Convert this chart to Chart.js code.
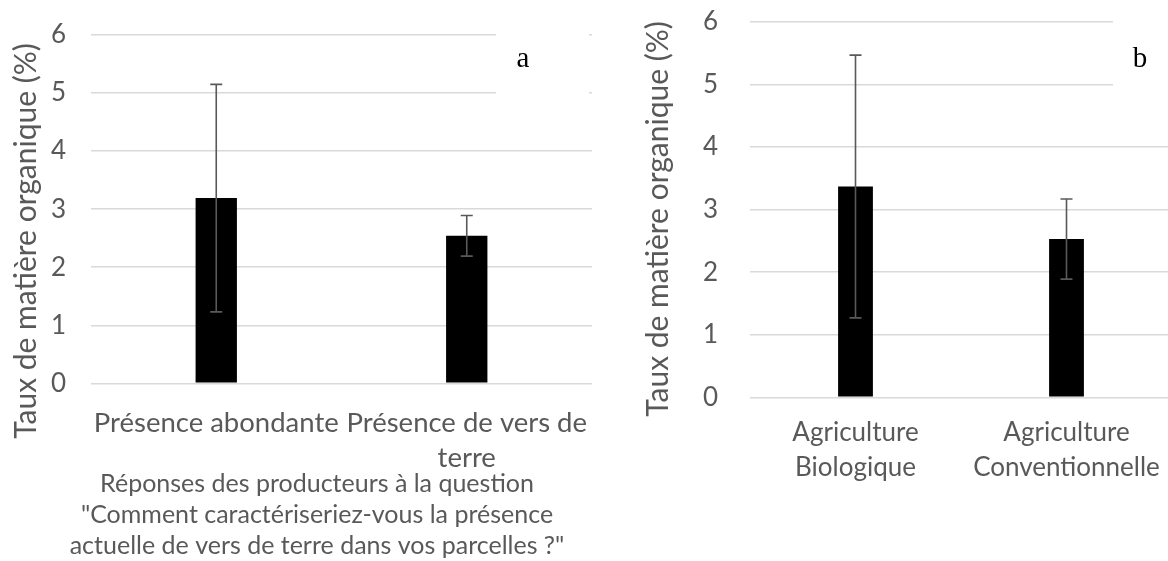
<!DOCTYPE html>
<html lang="fr">
<head>
<meta charset="utf-8">
<script src="https://cdn.jsdelivr.net/npm/chart.js@4.4.1/dist/chart.umd.min.js"></script>
<style>
  html, body { margin: 0; padding: 0; background: #fff; overflow: hidden; }
  #wrap { position: relative; width: 1168px; height: 561px; }
  .panel { position: absolute; top: 0; height: 561px; }
  #panelA { left: 0; width: 634px; }
  #panelB { left: 634px; width: 560px; }
</style>
</head>
<body>
<div id="wrap">
  <div class="panel" id="panelA"><canvas id="graficoA"></canvas></div>
  <div class="panel" id="panelB"><canvas id="graficoB"></canvas></div>
</div>
<script>
// Taux de MO selon la présence de vers de terre (a)
const categoriesA = [['Présence abondante'], ['Présence de vers de', 'terre']];
const moyennesA = [3.19, 2.54];
const ecartsA = [1.96, 0.35];

// Taux de MO selon le mode de production (b)
const categoriesB = [['Agriculture', 'Biologique'], ['Agriculture', 'Conventionnelle']];
const moyennesB = [3.37, 2.53];
const ecartsB = [2.10, 0.64];

const yMin = 0;
const yMax = 6;
const yPas = 1;

const titreY = 'Taux de matière organique (%)';
const titreXA = [
  'Réponses des producteurs à la question',
  '"Comment caractériseriez-vous la présence',
  'actuelle de vers de terre dans vos parcelles ?"'
];

const gris = '#595959';
const grille = '#d9d9d9';
const police = 'Lato, "Open Sans", sans-serif';

// barres d'erreur (moyenne ± écart) dessinées sur les échelles du graphique
const barresErreur = {
  id: 'barresErreur',
  afterDatasetsDraw(chart, args, opts) {
    const ctx = chart.ctx;
    const y = chart.scales.y;
    const meta = chart.getDatasetMeta(0);
    const data = chart.data.datasets[0].data;
    ctx.save();
    ctx.strokeStyle = gris;
    ctx.lineWidth = 1.6;
    meta.data.forEach((bar, i) => {
      const e = opts.ecarts[i];
      const haut = y.getPixelForValue(data[i] + e);
      const bas = y.getPixelForValue(data[i] - e);
      ctx.beginPath();
      ctx.moveTo(bar.x, haut);
      ctx.lineTo(bar.x, bas);
      ctx.moveTo(bar.x - 6, haut);
      ctx.lineTo(bar.x + 6, haut);
      ctx.moveTo(bar.x - 6, bas);
      ctx.lineTo(bar.x + 6, bas);
      ctx.stroke();
    });
    ctx.restore();
  }
};

// titres des axes + lettre du panneau (avec son cadre blanc)
const habillage = {
  id: 'habillage',
  beforeDatasetsDraw(chart, args, opts) {
    const ctx = chart.ctx;
    ctx.save();
    ctx.fillStyle = '#fff';
    ctx.fillRect(opts.cadre[0], opts.cadre[1], opts.cadre[2], opts.cadre[3]);
    ctx.restore();
  },
  afterDraw(chart, args, opts) {
    const ctx = chart.ctx;
    ctx.save();
    ctx.fillStyle = gris;
    ctx.font = '30px ' + police;
    ctx.textAlign = 'center';
    ctx.textBaseline = 'middle';
    ctx.translate(opts.titreX, opts.titreY);
    ctx.rotate(-Math.PI / 2);
    ctx.fillText(titreY, 0, 0);
    ctx.restore();

    if (opts.titreBas) {
      ctx.save();
      ctx.fillStyle = gris;
      ctx.font = '25px ' + police;
      ctx.textAlign = 'center';
      ctx.textBaseline = 'middle';
      opts.titreBas.forEach((ligne, i) => {
        ctx.fillText(ligne, opts.titreBasX, opts.titreBasY + i * 31);
      });
      ctx.restore();
    }

    ctx.save();
    ctx.fillStyle = '#000';
    ctx.font = '29px "Liberation Serif", "Times New Roman", serif';
    ctx.textAlign = 'center';
    ctx.textBaseline = 'middle';
    ctx.fillText(opts.lettre, opts.lettreX, opts.lettreY);
    ctx.restore();
  }
};

function creerGrafico(idCanvas, labels, valeurs, ecarts, cfg) {
  const ctx = document.getElementById(idCanvas).getContext('2d');
  return new Chart(ctx, {
    type: 'bar',
    data: {
      labels: labels,
      datasets: [{
        data: valeurs,
        backgroundColor: '#000',
        borderWidth: 0,
        categoryPercentage: 1,
        barPercentage: 0.165
      }]
    },
    options: {
      responsive: true,
      maintainAspectRatio: false,
      animation: false,
      layout: { padding: cfg.padding },
      plugins: {
        legend: { display: false },
        tooltip: { enabled: false },
        barresErreur: { ecarts: ecarts },
        habillage: cfg.habillage
      },
      scales: {
        x: {
          grid: { display: false },
          border: { display: false },
          ticks: {
            color: gris,
            font: { family: police, size: cfg.tailleX, lineHeight: 35 / cfg.tailleX },
            padding: cfg.padX,
            maxRotation: 0,
            autoSkip: false
          },
          afterFit: s => { s.height = cfg.hauteurX; }
        },
        y: {
          min: yMin,
          max: yMax,
          grid: { color: grille, lineWidth: 1.5, drawTicks: false },
          border: { display: false },
          ticks: {
            stepSize: yPas,
            color: gris,
            font: { family: police, size: 26 },
            padding: cfg.padY
          },
          afterFit: s => {
            s.width = cfg.largeurY;
            // la zone du graphique suit le padding du layout
            s.paddingTop = 0;
            s.paddingBottom = 0;
          }
        }
      }
    },
    plugins: [barresErreur, habillage]
  });
}

creerGrafico('graficoA', categoriesA, moyennesA, ecartsA, {
  padding: { top: 35, right: 42, bottom: 0, left: 0 },
  largeurY: 91,
  padY: 25,
  hauteurX: 177.7,
  tailleX: 27.5,
  padX: 14,
  habillage: {
    titreX: 26, titreY: 241,
    titreBas: titreXA, titreBasX: 317, titreBasY: 484,
    lettre: 'a', lettreX: 523, lettreY: 59,
    cadre: [496, 24, 93, 80]
  }
});

creerGrafico('graficoB', categoriesB, moyennesB, ecartsB, {
  padding: { top: 22, right: 22, bottom: 0, left: 0 },
  largeurY: 116,
  padY: 32,
  hauteurX: 163.7,
  tailleX: 26,
  padX: 10,
  habillage: {
    titreX: 24, titreY: 219,
    lettre: 'b', lettreX: 506, lettreY: 59,
    cadre: [479, 10, 100, 85]
  }
});
</script>
</body>
</html>
